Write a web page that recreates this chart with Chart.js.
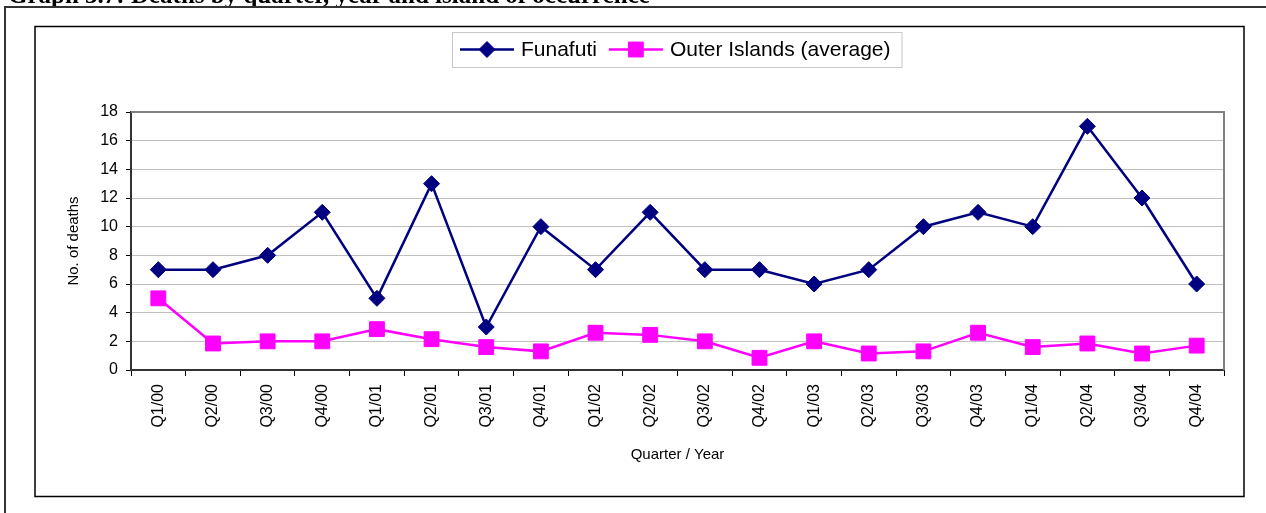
<!DOCTYPE html>
<html>
<head>
<meta charset="utf-8">
<title>Deaths by quarter</title>
<script src="https://cdn.jsdelivr.net/npm/chart.js@4"></script>
<style>
  body { margin: 0; background: #fff; }
  #wrap { position: relative; width: 1266px; height: 513px; overflow: hidden; }
  #chart { position: absolute; left: 0; top: 0; }
  #caption {
    position: absolute; left: 8px; top: 0; height: 6px; overflow: hidden;
    font: bold 25px "Liberation Serif", "Times New Roman", serif;
    line-height: 25px; white-space: nowrap; color: #000;
  }
  #caption span { display: block; margin-top: -18px; }
</style>
</head>
<body>
<div id="wrap">
  <canvas id="chart" width="1266" height="513"></canvas>
  <div id="caption"><span>Graph 3.7: Deaths by quarter, year and island of occurrence</span></div>
</div>
<script>
// values
const quarters = [
  "Q1/00", "Q2/00", "Q3/00", "Q4/00",
  "Q1/01", "Q2/01", "Q3/01", "Q4/01",
  "Q1/02", "Q2/02", "Q3/02", "Q4/02",
  "Q1/03", "Q2/03", "Q3/03", "Q4/03",
  "Q1/04", "Q2/04", "Q3/04", "Q4/04",
];
const funafuti = [7, 7, 8, 11, 5, 13, 3, 10, 7, 11, 7, 7, 6, 7, 10, 11, 10, 17, 12, 6];
const outerIslands = [5, 1.85, 2, 2, 2.85, 2.15, 1.6, 1.3, 2.6, 2.45, 2, 0.85, 2, 1.15, 1.3, 2.6, 1.6, 1.85, 1.15, 1.7];

const FONT = "'Liberation Sans', Arial, sans-serif";

// outer frame, chart frame, plot border and the legend
const frames = {
  id: "frames",
  beforeDraw(chart) {
    const c = chart.ctx;
    c.save();
    c.fillStyle = "#fff";
    c.fillRect(0, 0, chart.width, chart.height);
    c.strokeStyle = "#333";
    c.lineWidth = 2;
    c.beginPath();
    c.moveTo(5, chart.height);
    c.lineTo(5, 7);
    c.lineTo(chart.width, 7);
    c.stroke();
    c.strokeStyle = "#000";
    c.lineWidth = 1.5;
    c.strokeRect(35, 26.5, 1209, 470);
    c.restore();
  },
  beforeDatasetsDraw(chart) {
    const c = chart.ctx;
    const a = chart.chartArea;
    c.save();
    c.strokeStyle = "#808080";
    c.lineWidth = 2;
    c.beginPath();
    c.moveTo(a.left, a.top);
    c.lineTo(a.right, a.top);
    c.lineTo(a.right, a.bottom);
    c.stroke();
    c.restore();
  },
  afterDraw(chart) {
    const c = chart.ctx;
    c.save();
    c.font = "21px " + FONT;
    c.textBaseline = "middle";
    const y = 49.5;
    let x = 452;
    const left = x;
    x += 8;
    chart.data.datasets.forEach((ds, i) => {
      if (i > 0) x += 12;
      c.strokeStyle = ds.borderColor;
      c.lineWidth = ds.borderWidth;
      c.beginPath();
      c.moveTo(x, y);
      c.lineTo(x + 54, y);
      c.stroke();
      c.fillStyle = ds.pointBackgroundColor;
      c.lineWidth = 1;
      Chart.helpers.drawPoint(c, { pointStyle: ds.pointStyle, radius: ds.pointRadius, rotation: 0, borderWidth: 1 }, x + 27, y);
      c.fillStyle = "#000";
      c.fillText(ds.label, x + 61, y + 1);
      x += 61 + c.measureText(ds.label).width;
    });
    c.strokeStyle = "#c8c8c8";
    c.lineWidth = 1;
    c.strokeRect(left + 0.5, 32.5, x + 11 - left, 35);
    c.restore();
  },
};

new Chart(document.getElementById("chart"), {
  type: "line",
  data: {
    labels: quarters,
    datasets: [
      {
        label: "Funafuti",
        data: funafuti,
        borderColor: "#000080",
        backgroundColor: "#000080",
        pointBackgroundColor: "#000080",
        borderWidth: 2.5,
        pointStyle: "rectRot",
        pointRadius: 8,
        pointBorderWidth: 1,
      },
      {
        label: "Outer Islands (average)",
        data: outerIslands,
        borderColor: "#ff00ff",
        backgroundColor: "#ff00ff",
        pointBackgroundColor: "#ff00ff",
        borderWidth: 2.5,
        pointStyle: "rect",
        pointRadius: 10.5,
        pointBorderWidth: 1,
      },
    ],
  },
  options: {
    responsive: false,
    animation: false,
    events: [],
    layout: { padding: { left: 35, top: 112, right: 42, bottom: 17 } },
    plugins: { legend: { display: false }, tooltip: { enabled: false } },
    scales: {
      x: {
        offset: true,
        afterFit: (s) => { s.height = 126; },
        grid: { offset: true, drawOnChartArea: false, tickLength: 6, color: "#000" },
        border: { color: "#333", width: 2 },
        ticks: { color: "#000", font: { family: FONT, size: 16 }, minRotation: 90, maxRotation: 90, autoSkip: false, padding: 8 },
        title: { display: true, text: "Quarter / Year", color: "#000", font: { family: FONT, size: 15, lineHeight: 1.2 }, padding: { top: 4, bottom: 32 } },
      },
      y: {
        min: 0,
        max: 18,
        afterFit: (s) => { s.width = 96; },
        grid: { color: "#c0c0c0", tickColor: "#000", tickLength: 5 },
        border: { color: "#333", width: 2 },
        ticks: { stepSize: 2, color: "#000", font: { family: FONT, size: 16 }, padding: 8 },
        title: { display: true, text: "No. of deaths", color: "#000", font: { family: FONT, size: 15, lineHeight: 1.2 }, padding: { top: 30 } },
      },
    },
  },
  plugins: [frames],
});
</script>
</body>
</html>
